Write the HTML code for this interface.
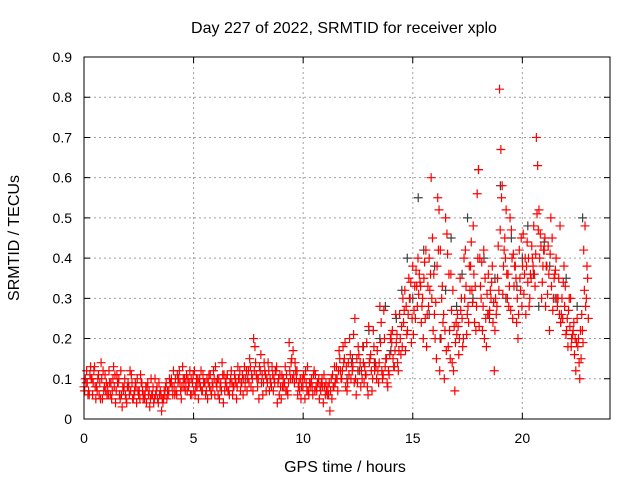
<!DOCTYPE html>
<html><head><meta charset="utf-8"><style>
html,body{margin:0;padding:0;background:#fff}
svg{display:block;font-family:"Liberation Sans",sans-serif}
</style></head><body>
<svg id="chart" width="640" height="480" viewBox="0 0 640 480" xmlns="http://www.w3.org/2000/svg">
<rect width="640" height="480" fill="#fff"/>
<text x="344" y="33" font-size="16" text-anchor="middle">Day 227 of 2022, SRMTID for receiver xplo</text>
<text x="345" y="472" font-size="16" text-anchor="middle">GPS time / hours</text>
<text transform="translate(19,238) rotate(-90)" font-size="16" text-anchor="middle">SRMTID / TECUs</text>
<g id="grid"></g>
<g id="ticks"></g>
<g id="marks"></g>
<rect x="84" y="57" width="526" height="362" fill="none" stroke="#000" stroke-width="1"/>
</svg>
<script>
const xTicks=[0,5,10,15,20];
const yTicks=[0,0.1,0.2,0.3,0.4,0.5,0.6,0.7,0.8,0.9];
const yTickLabels=["0","0.1","0.2","0.3","0.4","0.5","0.6","0.7","0.8","0.9"];
const redStep=0.12;
const redAStart=0, redBStart=0.06, redCStart=0.03, redDStart=0.09;
const redA=[0.08,0.12,0.06,0.10,0.13,0.07,0.09,0.05,0.11,0.08,0.06,0.10,0.04,0.09,0.12,0.07,0.05,0.08,0.11,0.06,0.04,0.07,0.09,0.05,0.08,0.03,0.06,0.10,0.05,0.07,
0.04,0.08,0.06,0.09,0.12,0.07,0.10,0.05,0.08,0.11,0.09,0.06,0.12,0.08,0.10,0.07,0.09,0.05,0.11,0.08,0.13,0.06,0.09,0.04,0.10,0.07,0.12,0.08,0.05,0.10,
0.09,0.13,0.07,0.15,0.10,0.18,0.08,0.12,0.06,0.11,0.14,0.09,0.07,0.12,0.10,0.05,0.08,0.11,0.19,0.15,0.09,0.12,0.07,0.10,0.05,0.13,0.08,0.06,0.11,0.09,
0.07,0.04,0.09,0.06,0.10,0.08,0.13,0.17,0.10,0.15,0.07,0.20,0.12,0.25,0.09,0.14,0.18,0.11,0.06,0.16,0.22,0.13,0.09,0.24,0.27,0.15,0.11,0.19,0.13,0.21,
0.26,0.18,0.32,0.22,0.30,0.38,0.25,0.40,0.33,0.20,0.42,0.28,0.60,0.36,0.15,0.52,0.30,0.10,0.46,0.22,0.14,0.07,0.26,0.35,0.18,0.42,0.28,0.38,0.48,0.22,
0.62,0.30,0.42,0.18,0.26,0.34,0.12,0.28,0.82,0.58,0.45,0.30,0.50,0.25,0.38,0.20,0.32,0.46,0.26,0.40,0.35,0.48,0.70,0.52,0.30,0.42,0.38,0.22,0.45,0.36,
0.28,0.48,0.25,0.33,0.18,0.30,0.22,0.12,0.20,0.15,0.42,0.30];
const redB=[0.10,0.06,0.13,0.09,0.05,0.11,0.14,0.07,0.09,0.12,0.05,0.08,0.11,0.06,0.03,0.10,0.08,0.12,0.05,0.09,0.07,0.11,0.05,0.08,0.06,0.10,0.04,0.07,0.09,0.02,
0.07,0.05,0.10,0.08,0.06,0.11,0.09,0.13,0.07,0.10,0.06,0.11,0.08,0.05,0.12,0.09,0.07,0.11,0.06,0.10,0.08,0.05,0.14,0.07,0.11,0.09,0.06,0.10,0.13,0.07,
0.06,0.10,0.12,0.08,0.20,0.11,0.05,0.09,0.14,0.10,0.07,0.13,0.09,0.04,0.11,0.08,0.13,0.06,0.10,0.17,0.12,0.08,0.05,0.11,0.09,0.06,0.10,0.12,0.07,0.05,
0.10,0.08,0.06,0.02,0.11,0.09,0.07,0.12,0.18,0.08,0.14,0.10,0.21,0.06,0.16,0.12,0.09,0.19,0.14,0.07,0.12,0.17,0.28,0.10,0.13,0.08,0.20,0.15,0.26,0.12,
0.16,0.24,0.28,0.35,0.19,0.27,0.33,0.36,0.28,0.39,0.26,0.32,0.45,0.20,0.55,0.42,0.24,0.50,0.18,0.36,0.12,0.24,0.16,0.30,0.40,0.21,0.38,0.32,0.24,0.56,
0.40,0.22,0.35,0.26,0.32,0.24,0.30,0.43,0.67,0.38,0.52,0.28,0.47,0.33,0.24,0.42,0.28,0.36,0.44,0.30,0.40,0.33,0.63,0.46,0.38,0.28,0.43,0.50,0.30,0.40,
0.35,0.26,0.38,0.22,0.30,0.20,0.16,0.25,0.10,0.22,0.48,0.35];
const redC=[0.07,0.09,0.11,0.06,0.08,0.10,0.05,0.12,0.07,0.06,0.09,0.13,0.07,0.10,0.06,0.08,0.04,0.06,0.09,0.07,0.10,0.05,0.07,0.06,0.09,0.05,0.08,0.06,0.04,0.06,
0.05,0.09,0.07,0.10,0.08,0.06,0.12,0.08,0.10,0.07,0.12,0.09,0.06,0.10,0.08,0.11,0.06,0.09,0.07,0.12,0.09,0.10,0.07,0.11,0.08,0.06,0.09,0.11,0.08,0.12,
0.11,0.08,0.10,0.13,0.07,0.14,0.10,0.16,0.09,0.07,0.12,0.08,0.10,0.13,0.06,0.11,0.09,0.07,0.12,0.10,0.14,0.06,0.10,0.08,0.12,0.07,0.09,0.11,0.08,0.10,
0.09,0.11,0.07,0.09,0.05,0.13,0.10,0.15,0.12,0.19,0.09,0.16,0.13,0.10,0.18,0.08,0.14,0.11,0.23,0.12,0.18,0.10,0.14,0.12,0.20,0.09,0.16,0.22,0.17,0.14,
0.20,0.30,0.17,0.26,0.34,0.21,0.37,0.31,0.24,0.35,0.18,0.40,0.30,0.26,0.38,0.12,0.33,0.22,0.41,0.15,0.32,0.19,0.23,0.27,0.20,0.33,0.24,0.44,0.36,0.28,
0.23,0.39,0.20,0.31,0.27,0.38,0.22,0.35,0.47,0.31,0.40,0.36,0.27,0.41,0.35,0.26,0.45,0.31,0.38,0.28,0.43,0.36,0.51,0.40,0.34,0.45,0.31,0.41,0.27,0.37,
0.30,0.24,0.34,0.21,0.27,0.18,0.24,0.19,0.14,0.26,0.32,0.38];
const redD=[0.09,0.07,0.10,0.12,0.08,0.06,0.10,0.08,0.06,0.09,0.07,0.11,0.09,0.05,0.08,0.06,0.09,0.07,0.05,0.08,0.06,0.09,0.06,0.04,0.07,0.06,0.05,0.08,0.06,0.05,
0.06,0.07,0.09,0.06,0.10,0.09,0.07,0.10,0.09,0.08,0.10,0.07,0.10,0.09,0.07,0.09,0.10,0.08,0.09,0.06,0.10,0.08,0.11,0.09,0.07,0.10,0.08,0.09,0.10,0.09,
0.10,0.12,0.09,0.11,0.12,0.10,0.13,0.11,0.12,0.09,0.10,0.11,0.12,0.09,0.08,0.10,0.07,0.09,0.14,0.11,0.10,0.09,0.08,0.10,0.07,0.09,0.08,0.07,0.09,0.08,
0.08,0.06,0.08,0.07,0.08,0.10,0.12,0.10,0.14,0.13,0.11,0.14,0.09,0.15,0.12,0.10,0.13,0.08,0.15,0.10,0.14,0.12,0.19,0.11,0.15,0.12,0.21,0.13,0.19,0.17,
0.23,0.27,0.21,0.30,0.25,0.33,0.28,0.34,0.30,0.25,0.33,0.36,0.22,0.29,0.42,0.20,0.26,0.17,0.36,0.27,0.23,0.21,0.20,0.25,0.30,0.26,0.32,0.29,0.33,0.40,
0.33,0.28,0.25,0.36,0.30,0.29,0.26,0.32,0.55,0.42,0.36,0.33,0.40,0.38,0.30,0.35,0.38,0.40,0.34,0.36,0.38,0.41,0.47,0.43,0.42,0.38,0.36,0.33,0.35,0.30,
0.26,0.30,0.28,0.25,0.23,0.21,0.20,0.18,0.22,0.19,0.28,0.25];
const blackStart=12, blackStep=0.25;
const black=[0.10,0.15,0.12,0.18,0.22,0.14,0.20,0.28,0.17,0.25,0.32,0.40,0.30,0.55,0.42,0.26,0.38,0.20,0.32,0.45,0.28,0.36,0.50,0.30,0.62,0.40,0.25,0.35,0.58,0.30,0.45,0.33,0.40,0.48,0.36,0.28,0.44,0.38,0.30,0.24,0.35,0.20,0.28,0.50];

const X0=84,X1=610,Y0=419,Y1=57;
const xs=t=>X0+(t/24)*(X1-X0);
const ys=v=>Y0-(v/0.9)*(Y0-Y1);
const NS="http://www.w3.org/2000/svg";
const grid=document.getElementById('grid'),ticks=document.getElementById('ticks'),marks=document.getElementById('marks');
function mk(tag,attrs,parent){const e=document.createElementNS(NS,tag);for(const k in attrs)e.setAttribute(k,attrs[k]);parent.appendChild(e);return e;}
xTicks.forEach(t=>{
  const x=xs(t);
  if(t>0){const g=mk('line',{x1:x,y1:Y0,x2:x,y2:Y1,stroke:'#a0a0a0','stroke-dasharray':'2,3'},grid);
  
  }
  const tk=mk('path',{d:`M${x},${Y0}v-6M${x},${Y1}v6`,stroke:'#000'},ticks);
  
  
  const l=mk('text',{x:x,y:443,'font-size':14,'text-anchor':'middle'},ticks);l.textContent=t;
  
  
});
yTicks.forEach((v,i)=>{
  const y=ys(v);
  if(v>0&&v<0.9){const g=mk('line',{x1:X0,y1:y,x2:X1,y2:y,stroke:'#a0a0a0','stroke-dasharray':'2,3'},grid);
  
  }
  const tk=mk('path',{d:`M${X0},${y}h6M${X1},${y}h-6`,stroke:'#000'},ticks);
  
  
  const l=mk('text',{x:72,y:y+5,'font-size':14,'text-anchor':'end'},ticks);l.textContent=yTickLabels[i];
  
  
});
function plot(arr,start,step,color,name){
  arr.forEach((v,i)=>{
    const x=xs(start+i*step),y=ys(v);
    const p=mk('path',{d:`M${x-4.5},${y}h9M${x},${y-4.5}v9`,stroke:color,'stroke-width':1.2},marks);
    
    
  });
}
plot(black,blackStart,blackStep,'#404040','point-black');
plot(redA,redAStart,redStep,'#ff0000','point-red');
plot(redB,redBStart,redStep,'#ff0000','point-red');
plot(redC,redCStart,redStep,'#ff0000','point-red');
plot(redD,redDStart,redStep,'#ff0000','point-red');
</script>
</body></html>
